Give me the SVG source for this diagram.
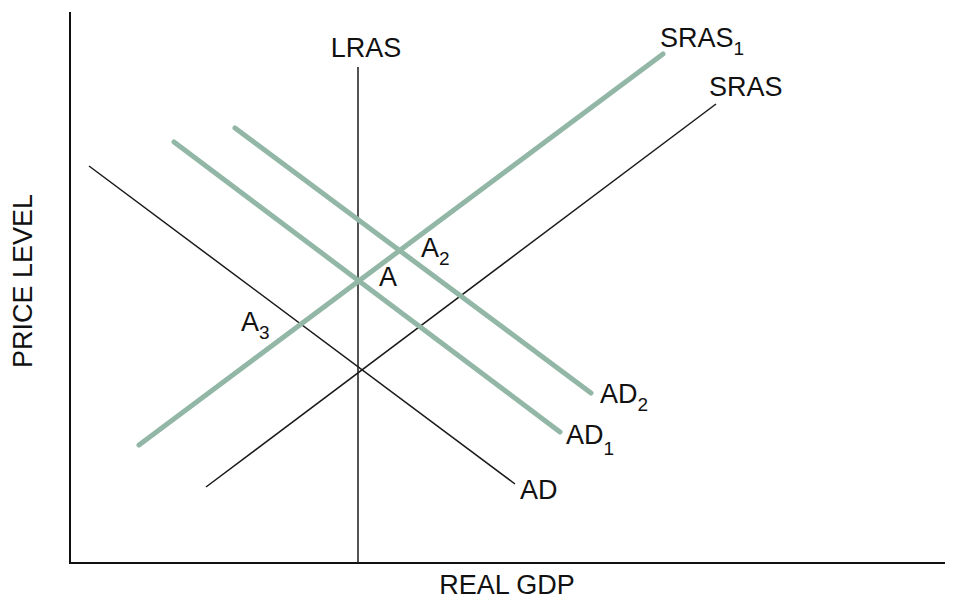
<svg xmlns="http://www.w3.org/2000/svg" width="958" height="601" viewBox="0 0 958 601">
<style>
.thin{stroke:#1a1a1a;stroke-width:1.5;fill:none}
.thick{stroke:#93b7a7;stroke-width:5;stroke-linecap:round;fill:none}
.axis{stroke:#111;stroke-width:2;fill:none}
text{font-family:"Liberation Sans",Arial,sans-serif;font-size:27px;fill:#111}
.sub{font-size:19px}
</style>
<rect width="958" height="601" fill="#fff"/>
<g id="axes">
<polyline class="axis" points="70,12 70,563 945,563"/>
<text x="507" y="594" text-anchor="middle">REAL GDP</text>
<text transform="translate(32,281) rotate(-90)" text-anchor="middle">PRICE LEVEL</text>
</g>
<g id="connectors">
<line id="LRAS" class="thin" x1="358" y1="67" x2="358" y2="563"/>
<line id="SRAS" class="thin" x1="206" y1="487" x2="716" y2="104"/>
<line id="AD" class="thin" x1="89" y1="166" x2="515" y2="484"/>
<line id="SRAS1" class="thick" x1="139" y1="445" x2="663" y2="54"/>
<line id="AD1" class="thick" x1="174" y1="142" x2="560" y2="432"/>
<line id="AD2" class="thick" x1="235" y1="128" x2="591" y2="393"/>
</g>
<g id="labels">
<text x="366" y="57" text-anchor="middle">LRAS</text>
<text x="660" y="47">SRAS<tspan class="sub" dy="8">1</tspan></text>
<text x="709" y="96">SRAS</text>
<text x="421" y="257">A<tspan class="sub" dy="8">2</tspan></text>
<text x="379" y="286">A</text>
<text x="241" y="331">A<tspan class="sub" dy="8">3</tspan></text>
<text x="600" y="403">AD<tspan class="sub" dy="8">2</tspan></text>
<text x="566" y="444">AD<tspan class="sub" dy="11">1</tspan></text>
<text x="520" y="499">AD</text>
</g>
</svg>
